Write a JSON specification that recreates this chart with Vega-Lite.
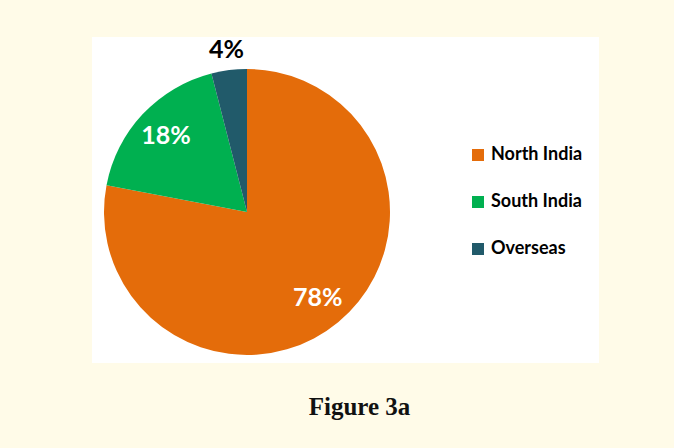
{
  "$schema": "https://vega.github.io/schema/vega-lite/v6.json",
  "width": 507,
  "height": 326,
  "autosize": {"type": "none"},
  "padding": {"left": 92, "top": 37, "right": 75, "bottom": 85},
  "background": "#fffbe8",
  "view": {"fill": "#ffffff", "stroke": null},
  "title": {
    "text": "Figure 3a",
    "orient": "bottom",
    "anchor": "middle",
    "baseline": "alphabetic",
    "offset": 52,
    "dx": 14,
    "font": "Liberation Serif",
    "fontSize": 25,
    "fontWeight": "bold",
    "color": "#111111"
  },
  "data": {
    "values": [
      {"region": "North India", "share": 0.78},
      {"region": "South India", "share": 0.18},
      {"region": "Overseas", "share": 0.04}
    ]
  },
  "encoding": {
    "theta": {"field": "share", "type": "quantitative", "stack": true},
    "order": {"field": "share", "type": "quantitative", "sort": "descending"}
  },
  "layer": [
    {
      "mark": {"type": "arc", "radius": 143, "x": 155, "y": 175, "strokeWidth": 0},
      "encoding": {
        "color": {
          "field": "region",
          "type": "nominal",
          "scale": {
            "domain": ["North India", "South India", "Overseas"],
            "range": ["#e46c0a", "#00b050", "#215a6a"]
          },
          "legend": {
            "orient": "none",
            "legendX": 377,
            "legendY": 109,
            "title": null,
            "symbolType": "square",
            "symbolSize": 144,
            "symbolStrokeWidth": 0,
            "labelFont": "Lato",
            "labelFontSize": 18,
            "labelFontWeight": "bold",
            "labelColor": "#000000",
            "rowPadding": 29,
            "labelOffset": 4,
            "padding": 0
          }
        }
      }
    },
    {
      "mark": {
        "type": "text",
        "x": 155,
        "y": 175,
        "radius": 111,
        "font": "Lato",
        "fontWeight": "bold",
        "fontSize": 25,
        "align": "center",
        "baseline": "middle",
        "color": "white"
      },
      "encoding": {
        "text": {
          "condition": {"test": "datum.region !== 'Overseas'", "field": "share", "type": "quantitative", "format": ".0%"},
          "value": ""
        }
      }
    },
    {
      "mark": {
        "type": "text",
        "x": 155,
        "y": 175,
        "radius": 163,
        "font": "Lato",
        "fontWeight": "bold",
        "fontSize": 25,
        "align": "center",
        "baseline": "middle",
        "color": "#000000"
      },
      "encoding": {
        "text": {
          "condition": {"test": "datum.region === 'Overseas'", "field": "share", "type": "quantitative", "format": ".0%"},
          "value": ""
        }
      }
    }
  ]
}
